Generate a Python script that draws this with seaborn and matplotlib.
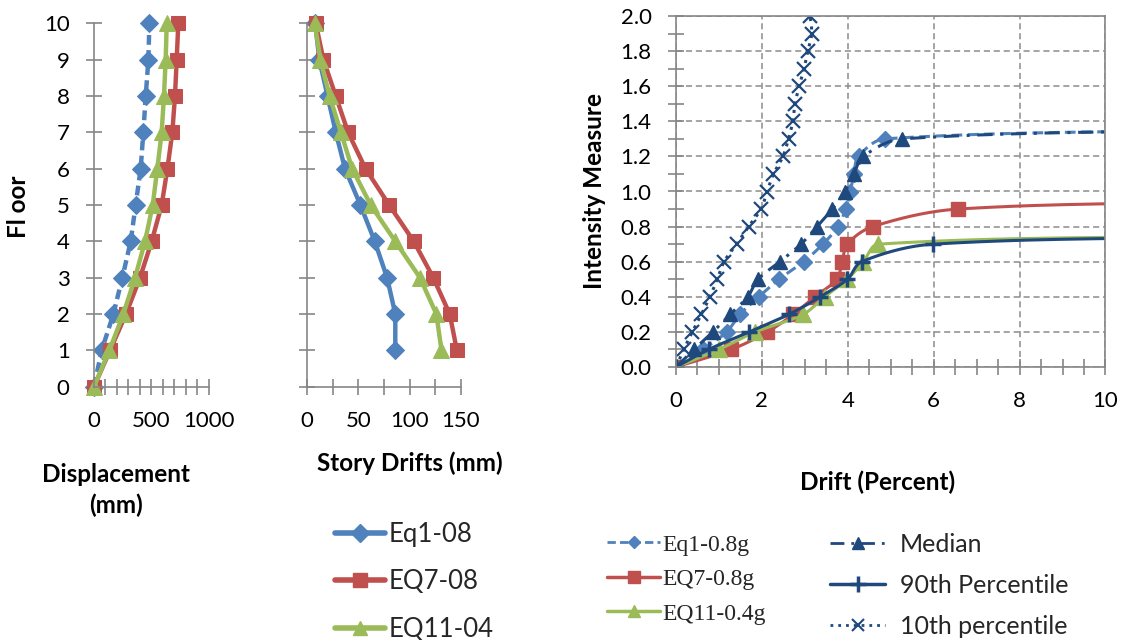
import numpy as np
import pandas as pd
import seaborn as sns
import matplotlib
matplotlib.use("Agg")
import matplotlib.pyplot as plt
from matplotlib.lines import Line2D
from matplotlib.ticker import MultipleLocator, FormatStrFormatter

# ---------------- data ----------------
floors = list(range(11))
eq1_disp = [0, 67, 169, 247, 320, 363, 407, 430, 451, 474, 483]
eq7_disp = [0, 140, 279, 401, 503, 590, 640, 683, 706, 721, 735]
eq11_disp = [0, 134, 256, 358, 445, 512, 552, 590, 610, 625, 634]

drift_floors = list(range(1, 11))
eq1_drift = [86, 86, 78, 66, 52, 37, 28, 20, 12, 8]
eq7_drift = [146, 139, 123, 104, 80, 57, 40, 28, 16, 8.5]
eq11_drift = [131, 126, 110, 86, 62, 44, 33, 22, 13, 7.5]

# IDA curves (drift %, intensity measure); last point lies beyond the plotted range
ida_eq1_x = [0, 0.63, 1.18, 1.49, 1.93, 2.40, 2.97, 3.42, 3.77, 3.95, 4.06, 4.14, 4.25, 4.86, 14]
ida_eq1_y = [0, 0.1, 0.2, 0.3, 0.4, 0.5, 0.6, 0.7, 0.8, 0.9, 1.0, 1.1, 1.2, 1.3, 1.355]
ida_eq7_x = [0, 1.29, 2.13, 2.73, 3.23, 3.74, 3.87, 3.99, 4.58, 6.57, 14]
ida_eq7_y = [0, 0.1, 0.2, 0.3, 0.4, 0.5, 0.6, 0.7, 0.8, 0.9, 0.945]
ida_eq11_x = [0, 1.0, 1.85, 2.96, 3.46, 3.99, 4.36, 4.71, 14]
ida_eq11_y = [0, 0.1, 0.2, 0.3, 0.4, 0.5, 0.6, 0.7, 0.75]
median_x = [0, 0.42, 0.86, 1.26, 1.67, 1.91, 2.42, 2.91, 3.28, 3.64, 3.93, 4.14, 4.36, 5.27, 14]
median_y = [0, 0.1, 0.2, 0.3, 0.4, 0.5, 0.6, 0.7, 0.8, 0.9, 1.0, 1.1, 1.2, 1.3, 1.355]
p90_x = [0, 0.76, 1.71, 2.63, 3.36, 3.99, 4.32, 5.99, 14]
p90_y = [0, 0.1, 0.2, 0.3, 0.4, 0.5, 0.6, 0.7, 0.745]
p10_x = [0, 0.18, 0.38, 0.59, 0.79, 0.96, 1.12, 1.41, 1.69, 1.98, 2.12, 2.27, 2.49,
         2.62, 2.72, 2.77, 2.87, 2.98, 3.07, 3.16, 3.12]
p10_y = [0, 0.1, 0.2, 0.3, 0.4, 0.5, 0.6, 0.7, 0.8, 0.9, 1.0, 1.1, 1.2,
         1.3, 1.4, 1.5, 1.6, 1.7, 1.8, 1.9, 2.0]

# ---------------- style ----------------
sns.set_theme(style="white")
plt.rcParams['font.family'] = ['Lato', 'DejaVu Sans']

BLUE = "#4F81BD"
RED = "#C0504D"
GREEN = "#9BBB59"
NAVY = "#1F497D"
GREY = "#868686"
GRID = "#8C8C8C"

# pixel per data unit in the IDA panel (used only so the smoothing is shape-correct)
SX, SY = 43.0, 175.5


def smooth(x, y, n=30, k=0.33):
    """Excel-like smoothed curve through the points (Bezier with
    tangent handles proportional to each segment length)."""
    p = np.column_stack([np.asarray(x, float) * SX, np.asarray(y, float) * SY])
    m = len(p)
    tang = np.zeros_like(p)
    for i in range(m):
        a = p[max(i - 1, 0)]
        b = p[min(i + 1, m - 1)]
        d = b - a
        nrm = np.hypot(*d)
        tang[i] = d / nrm if nrm > 0 else 0
    out = [p[0]]
    t = np.linspace(0, 1, n)[1:, None]
    for i in range(m - 1):
        p1, p2 = p[i], p[i + 1]
        L = np.hypot(*(p2 - p1))
        c1 = p1 + tang[i] * L * k
        c2 = p2 - tang[i + 1] * L * k
        seg = ((1 - t) ** 3) * p1 + 3 * ((1 - t) ** 2) * t * c1 + 3 * (1 - t) * t ** 2 * c2 + t ** 3 * p2
        out.extend(seg)
    out = np.array(out)
    return out[:, 0] / SX, out[:, 1] / SY


fig = plt.figure(figsize=(11.29, 6.4), dpi=100)

ax1 = fig.add_axes([94 / 1129, 1 - 386.7 / 640, 114.7 / 1129, 363.4 / 640])
ax2 = fig.add_axes([307 / 1129, 1 - 386.7 / 640, 154 / 1129, 363.4 / 640])
ax3 = fig.add_axes([676 / 1129, 1 - 367 / 640, 429.5 / 1129, 351 / 640])

TICKFS = 16


def style_axes(ax, box=False):
    for side in ['left', 'bottom', 'top', 'right']:
        ax.spines[side].set_color(GREY)
        ax.spines[side].set_linewidth(1.2)
        ax.spines[side].set_visible(box or side in ('left', 'bottom'))
    ax.tick_params(which='both', direction='inout', length=11, width=1.2, color=GREY,
                   pad=12, labelsize=TICKFS, labelcolor='black',
                   bottom=True, left=True, top=False, right=False)
    ax.grid(False)


# ---------- panel 1: displacement ----------
lw12 = 3.2
sns.lineplot(x=eq1_disp, y=floors, sort=False, estimator=None, ax=ax1, color=BLUE,
             lw=lw12, ls=(0, (2.2, 1.2)), marker='D', ms=9, mec=BLUE, clip_on=False)
sns.lineplot(x=eq7_disp, y=floors, sort=False, estimator=None, ax=ax1, color=RED,
             lw=lw12, marker='s', ms=10, mec=RED, clip_on=False)
sns.lineplot(x=eq11_disp, y=floors, sort=False, estimator=None, ax=ax1, color=GREEN,
             lw=lw12, marker='^', ms=11, mec=GREEN, clip_on=False)
ax1.set_xlim(0, 1000)
ax1.set_ylim(0, 10)
ax1.xaxis.set_major_locator(MultipleLocator(500))
ax1.xaxis.set_minor_locator(MultipleLocator(100))
ax1.yaxis.set_major_locator(MultipleLocator(1))
style_axes(ax1)
ax1.set_xlabel('')
ax1.set_ylabel('')

# ---------- panel 2: story drifts ----------
sns.lineplot(x=eq1_drift, y=drift_floors, sort=False, estimator=None, ax=ax2, color=BLUE,
             lw=lw12, marker='D', ms=9, mec=BLUE, clip_on=False)
sns.lineplot(x=eq7_drift, y=drift_floors, sort=False, estimator=None, ax=ax2, color=RED,
             lw=lw12, marker='s', ms=10, mec=RED, clip_on=False)
sns.lineplot(x=eq11_drift, y=drift_floors, sort=False, estimator=None, ax=ax2, color=GREEN,
             lw=lw12, marker='^', ms=11, mec=GREEN, clip_on=False)
ax2.set_xlim(0, 150)
ax2.set_ylim(0, 10)
ax2.xaxis.set_major_locator(MultipleLocator(50))
ax2.xaxis.set_minor_locator(MultipleLocator(25))
ax2.yaxis.set_major_locator(MultipleLocator(1))
style_axes(ax2)
ax2.set_yticklabels([])
ax2.set_xlabel('')
ax2.set_ylabel('')

# ---------- panel 3: IDA curves ----------
lw3 = 2.2
series3 = [
    (ida_eq1_x, ida_eq1_y, BLUE, (0, (3.5, 1.8)), 'D', 8.5, 1.0),
    (ida_eq7_x, ida_eq7_y, RED, '-', 's', 10.5, 1.0),
    (ida_eq11_x, ida_eq11_y, GREEN, '-', '^', 11.5, 1.0),
    (median_x, median_y, NAVY, (0, (5, 2.5, 1, 2.5)), '^', 10.5, 1.0),
    (p90_x, p90_y, NAVY, '-', '+', 12, 2.5),
    (p10_x, p10_y, NAVY, (0, (1, 1.8)), 'x', 10.5, 1.6),
]
for xs, ys, col, ls, mk, ms, mew in series3:
    sx, sy = smooth(xs, ys)
    sns.lineplot(x=sx, y=sy, sort=False, estimator=None, ax=ax3, color=col, lw=lw3, ls=ls)
    ax3.plot(xs, ys, ls='none', marker=mk, ms=ms, color=col, mec=col, mew=mew, clip_on=True)

ax3.set_xlim(0, 10)
ax3.set_ylim(0, 2)
ax3.xaxis.set_major_locator(MultipleLocator(2))
ax3.xaxis.set_minor_locator(MultipleLocator(0.5))
ax3.yaxis.set_major_locator(MultipleLocator(0.2))
ax3.yaxis.set_minor_locator(MultipleLocator(0.1))
ax3.yaxis.set_major_formatter(FormatStrFormatter('%.1f'))
style_axes(ax3, box=True)
ax3.grid(True, which='major', color=GRID, ls=(0, (4, 2.5)), lw=1.1)
ax3.set_axisbelow(True)
ax3.set_xlabel('')
ax3.set_ylabel('')

# ---------- text labels ----------
LBL = dict(fontsize=17.5, fontweight='bold', color='black')
fig.text(18 / 1129, 1 - 207 / 640, 'Fl oor', rotation=90, ha='center', va='center', **LBL)
fig.text(116 / 1129, 1 - 475 / 640, 'Displacement', ha='center', va='center', **LBL)
fig.text(116 / 1129, 1 - 505 / 640, '(mm)', ha='center', va='center', **LBL)
fig.text(410 / 1129, 1 - 463 / 640, 'Story Drifts (mm)', ha='center', va='center', **LBL)
fig.text(594 / 1129, 1 - 191 / 640, 'Intensity Measure', rotation=90, ha='center', va='center', **LBL)
fig.text(878 / 1129, 1 - 482 / 640, 'Drift (Percent)', ha='center', va='center', **LBL)

# ---------- legends ----------
h1 = [Line2D([], [], color=BLUE, lw=4, marker='D', ms=9),
      Line2D([], [], color=RED, lw=4, marker='s', ms=10),
      Line2D([], [], color=GREEN, lw=4, marker='^', ms=10)]
fig.legend(h1, ['Eq1-08', 'EQ7-08', 'EQ11-04'], loc='upper left',
           bbox_to_anchor=(335 / 1129, 1 - 522 / 640), frameon=False, fontsize=18.5,
           handlelength=1.95, handletextpad=0.13, labelspacing=0.87, borderpad=0, borderaxespad=0)

h2 = [Line2D([], [], color=BLUE, lw=2, ls=(0, (3, 1.5)), marker='D', ms=6),
      Line2D([], [], color=RED, lw=2.5, marker='s', ms=8),
      Line2D([], [], color=GREEN, lw=2.5, marker='^', ms=8)]
fig.legend(h2, ['Eq1-0.8g', 'EQ7-0.8g', 'EQ11-0.4g'], loc='upper left',
           bbox_to_anchor=(607 / 1129, 1 - 534 / 640), frameon=False,
           prop={'family': 'Liberation Serif', 'size': 17},
           handlelength=2.25, handletextpad=0.1, labelspacing=0.55, borderpad=0, borderaxespad=0)

h3 = [Line2D([], [], color=NAVY, lw=2, ls=(0, (5, 2.5, 1, 2.5)), marker='^', ms=8),
      Line2D([], [], color=NAVY, lw=2.5, marker='+', ms=11, mew=2.5),
      Line2D([], [], color=NAVY, lw=2, ls=(0, (1, 1.8)), marker='x', ms=9, mew=1.5)]
fig.legend(h3, ['Median', '90th Percentile', '10th percentile'], loc='upper left',
           bbox_to_anchor=(830 / 1129, 1 - 533 / 640), frameon=False, fontsize=18,
           handlelength=2.2, handletextpad=0.6, labelspacing=0.72, borderpad=0, borderaxespad=0)

fig.savefig('out.png', dpi=100, facecolor='white')
